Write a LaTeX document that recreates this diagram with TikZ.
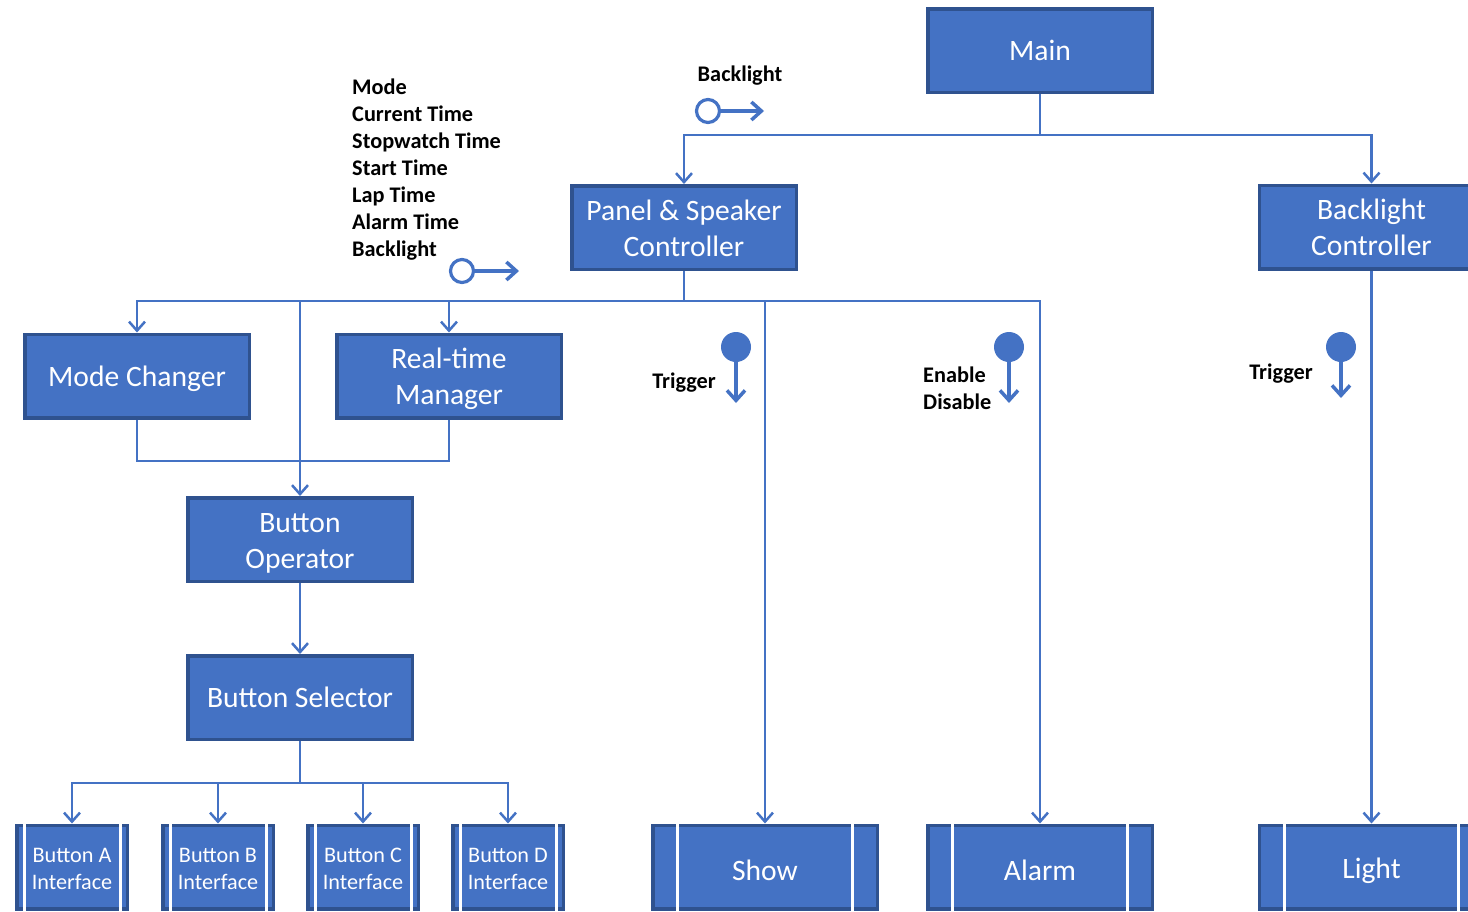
\documentclass[tikz,border=0pt]{standalone}
\usepackage{fontspec}
\setmainfont{Carlito}
\usetikzlibrary{arrows.meta}
\definecolor{boxfill}{HTML}{4472C4}
\definecolor{boxline}{HTML}{2F528F}
\definecolor{linec}{HTML}{4472C4}
\begin{document}
\begin{tikzpicture}[x=1pt,y=-1pt,
  modbox/.style={draw=boxline, fill=boxfill, line width=3.5pt, minimum width=224.5pt, minimum height=83.5pt, inner sep=0pt},
  boxtxt/.style={text=white, align=center, inner sep=0pt, font=\fontsize{29.6}{36}\selectfont},
  sboxtxt/.style={boxtxt, font=\fontsize{22.2}{27}\selectfont},
  mod/.style 2 args={modbox, label={[boxtxt, yshift={-#2pt}]center:{#1}}},
  smod/.style 2 args={modbox, minimum width=110.5pt, label={[sboxtxt, yshift={-#2pt}]center:{#1}}},
  conn/.style={draw=linec, line width=2.5pt},
  arr/.style={conn, -{Straight Barb[length=9pt,width=16pt]}},
  carr/.style={draw=linec, line width=3.5pt, -{Straight Barb[length=10pt,width=18pt]}},
  lbl/.style={font=\bfseries\fontsize{22.3}{27}\selectfont, inner sep=0pt, align=left},
  ocirc/.style={circle, draw=linec, line width=3.2pt, fill=white, minimum size=23pt, inner sep=0pt},
  fcirc/.style={circle, fill=linec, minimum size=30pt, inner sep=0pt},
  gap/.style={white, line width=3pt}]
\clip (0,0) rectangle (1468,911);
\fill[white] (0,0) rectangle (1468,911);

% modules
\node[mod={Main}{0}] (main) at (1040,50.5) {};
\node[mod={Panel \& Speaker\\Controller}{1}] (panel) at (684,227.5) {};
\node[mod={Backlight\\Controller}{0}] (blc) at (1371.5,227) {};
\node[mod={Mode Changer}{3}] (mode) at (137,376) {};
\node[mod={Real-time\\Manager}{3}] (rtm) at (449,376) {};
\node[mod={Button\\Operator}{3.5}] (bop) at (300,539.5) {};
\node[mod={Button Selector}{0}] (bsel) at (300,697.5) {};

% library modules
\node[smod={Button A\\Interface}{2}] (ba) at (72,867) {};
\node[smod={Button B\\Interface}{2}] (bb) at (218,867) {};
\node[smod={Button C\\Interface}{2}] (bc) at (363,867) {};
\node[smod={Button D\\Interface}{2}] (bd) at (508,867) {};
\node[mod={Show}{3}] (show) at (765,867) {};
\node[mod={Alarm}{3}] (alarm) at (1040,867) {};
\node[mod={Light}{3.5}] (light) at (1371.5,867) {};

\foreach \n in {ba,bb,bc,bd}{
  \draw[gap] ([xshift=9pt,yshift=3pt]\n.north west) -- ([xshift=9pt,yshift=-3pt]\n.south west);
  \draw[gap] ([xshift=-9pt,yshift=3pt]\n.north east) -- ([xshift=-9pt,yshift=-3pt]\n.south east);
}
\foreach \n in {show,alarm,light}{
  \draw[gap] ([xshift=26.5pt,yshift=3pt]\n.north west) -- ([xshift=26.5pt,yshift=-3pt]\n.south west);
  \draw[gap] ([xshift=-27pt,yshift=3pt]\n.north east) -- ([xshift=-27pt,yshift=-3pt]\n.south east);
}

% connectors
\coordinate (j1) at (1040,135);
\draw[conn] (main.south) -- (j1);
\draw[arr] (j1) -| (panel.north);
\draw[arr] (j1) -| (blc.north);

\coordinate (j2) at (684,301);
\draw[conn] (panel.south) -- (j2);
\draw[arr] (j2) -| (mode.north);
\draw[arr] (j2) -| (rtm.north);
\draw[arr] (j2) -| (bop.north);
\draw[arr] (j2) -| (show.north);
\draw[arr] (j2) -| (alarm.north);

\coordinate (j3) at (137,461);
\draw[conn] (mode.south) -- (j3) -| (rtm.south);

\draw[arr] (bop.south) -- (bsel.north);

\coordinate (j4) at (300,783);
\draw[conn] (bsel.south) -- (j4);
\draw[arr] (j4) -| (ba.north);
\draw[arr] (j4) -| (bb.north);
\draw[arr] (j4) -| (bc.north);
\draw[arr] (j4) -| (bd.north);

\draw[arr] (blc.south) -- (light.north);

% data couples
\node[ocirc] (oc1) at (708,111) {};
\coordinate (oc1e) at (764,111);
\draw[carr] (oc1) -- (oc1e);
\node[lbl] (l1) at (740,76) {Backlight};

\node[ocirc] (oc2) at (462,271) {};
\coordinate (oc2e) at (519,271);
\draw[carr] (oc2) -- (oc2e);
\node[lbl, anchor=north west] (l2) at (352,79) {Mode\\Current Time\\Stopwatch Time\\Start Time\\Lap Time\\Alarm Time\\Backlight};

\node[fcirc] (fc1) at (736,347) {};
\coordinate (fc1e) at (736,403);
\draw[carr] (fc1) -- (fc1e);
\node[lbl, anchor=east] (t1) at (716,383) {Trigger};

\node[fcirc] (fc2) at (1009,347) {};
\coordinate (fc2e) at (1009,403);
\draw[carr] (fc2) -- (fc2e);
\node[lbl, anchor=west] (t2) at (923,388) {Enable\\Disable};

\node[fcirc] (fc3) at (1341,347) {};
\coordinate (fc3e) at (1341,398);
\draw[carr] (fc3) -- (fc3e);
\node[lbl, anchor=east] (t3) at (1313,374) {Trigger};
\end{tikzpicture}
\end{document}
